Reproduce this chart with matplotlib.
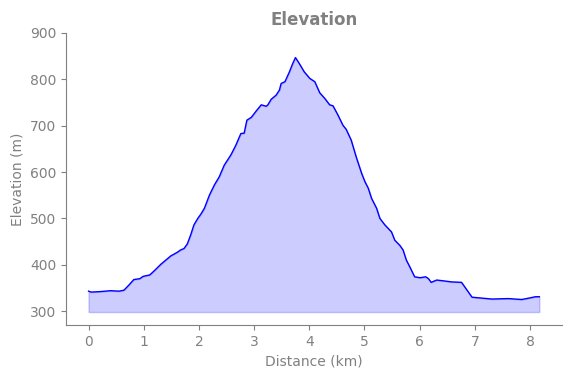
import matplotlib
matplotlib.use("Agg")
import matplotlib.pyplot as plt

# distance along the route (km) and elevation (m)
distance = [0.0, 0.05, 0.2, 0.4, 0.55, 0.64, 0.73, 0.82, 0.93, 0.99, 1.11, 1.2, 1.31, 1.4, 1.49,
            1.61, 1.67, 1.73, 1.79, 1.85, 1.91, 1.98, 2.04, 2.10, 2.19, 2.28, 2.37, 2.46, 2.58,
            2.67, 2.76, 2.82, 2.87, 2.95, 3.04, 3.13, 3.22, 3.25, 3.31, 3.40, 3.46, 3.49, 3.56,
            3.64, 3.70, 3.75, 3.82, 3.91, 4.01, 4.10, 4.19, 4.28, 4.37, 4.43, 4.52, 4.61, 4.67,
            4.76, 4.85, 4.95, 5.01, 5.07, 5.13, 5.22, 5.28, 5.37, 5.49, 5.55, 5.64, 5.70, 5.76,
            5.82, 5.91, 6.01, 6.11, 6.16, 6.21, 6.31, 6.45, 6.58, 6.76, 6.95, 7.31, 7.61, 7.85,
            7.98, 8.10, 8.17]
elevation = [343, 341, 342, 344, 343, 345, 356, 368, 370, 375, 378, 388, 401, 410, 419,
             427, 432, 435, 445, 464, 486, 500, 510, 522, 550, 572, 590, 615, 637,
             658, 683, 684, 712, 718, 732, 745, 742, 745, 757, 766, 777, 791, 795,
             816, 834, 847, 834, 816, 802, 795, 771, 759, 745, 743, 723, 701, 692,
             669, 633, 597, 579, 565, 543, 522, 500, 486, 471, 453, 442, 432, 410,
             396, 374, 372, 374, 370, 362, 367, 365, 363, 362, 330, 326, 327, 325,
             328, 331, 331]
base = 298

fig = plt.figure(figsize=(5.71, 3.78), dpi=100)
ax = fig.add_axes([0.1156, 0.1402, 0.8684, 0.7725])

ax.plot(distance, elevation, color="blue", lw=1)
ax.fill_between(distance, elevation, base, color="blue", alpha=0.2)

ax.set_ylim(270, 900)
ax.set_title("Elevation", color="gray", fontweight="bold", fontsize=12)
ax.set_xlabel("Distance (km)", color="gray")
ax.set_ylabel("Elevation (m)", color="gray")

for s in ["top", "right"]:
    ax.spines[s].set_visible(False)
for s in ["left", "bottom"]:
    ax.spines[s].set_color("gray")
ax.tick_params(colors="gray")

fig.savefig("out.png", dpi=100)
